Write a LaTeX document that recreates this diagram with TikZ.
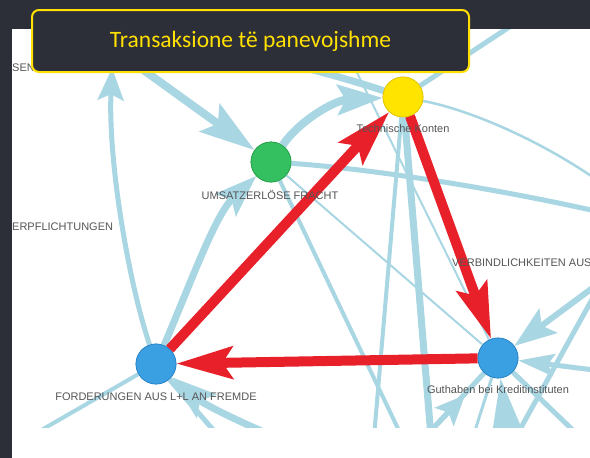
\documentclass[tikz,border=0pt]{standalone}
\usepackage{fontspec}
\newfontfamily\labelfont{Liberation Sans}
\newfontfamily\titlefont{Carlito}
\usetikzlibrary{arrows.meta}
\definecolor{bgdark}{HTML}{2C2E38}
\definecolor{lblue}{HTML}{A9D6E3}
\definecolor{redc}{HTML}{E8202A}
\definecolor{ttlyellow}{HTML}{FFE000}
\definecolor{labgray}{HTML}{555555}
\definecolor{ynode}{HTML}{FFE400}
\definecolor{ynodeb}{HTML}{E2C400}
\definecolor{gnode}{HTML}{34C060}
\definecolor{gnodeb}{HTML}{28A04C}
\definecolor{bnode}{HTML}{3AA0E2}
\definecolor{bnodeb}{HTML}{2A84C4}
\tikzset{
  vertex/.style={circle, minimum size=40pt, inner sep=0pt, line width=0.7pt},
  hidden/.style={circle, minimum size=40pt, inner sep=0pt},
  be/.style={draw=lblue, line width=#1},
  rededge/.style={draw=redc, line width=10pt, -{Stealth[length=56pt,width=32pt,inset=10pt]}},
  lbl/.style={font=\labelfont\fontsize{11}{13}\selectfont, text=labgray, inner sep=0pt},
  titlebox/.style={draw=ttlyellow, line width=2pt, fill=bgdark, rounded corners=7pt,
    minimum width=437pt, minimum height=62pt, text=ttlyellow,
    font=\titlefont\fontsize{23.5}{28}\selectfont}
}
\begin{document}
\begin{tikzpicture}[x=1pt,y=-1pt]
\useasboundingbox (0,0) rectangle (590,458);
\fill[bgdark] (0,0) rectangle (590,458);
\fill[white] (12,29) rectangle (590,458);

% nodes
\node[vertex, fill=ynode, draw=ynodeb] (Y) at (403,97) {};
\node[vertex, fill=gnode, draw=gnodeb] (G) at (271,162) {};
\node[vertex, fill=bnode, draw=bnodeb] (L) at (156,364) {};
\node[vertex, fill=bnode, draw=bnodeb] (R) at (498,358) {};
\node[hidden] (H) at (113,48) {};

% free ends
\coordinate (T1) at (331,20);
\coordinate (T2) at (520,20);
\coordinate (E1) at (600,212);
\coordinate (E2) at (600,182);
\coordinate (E3) at (610,275);
\coordinate (E4) at (610,372);
\coordinate (E5) at (600,285);
\coordinate (E6) at (513,442);
\coordinate (B1) at (402,437);
\coordinate (B2) at (374,437);
\coordinate (B3) at (431,437);
\coordinate (B4) at (38,432);
\coordinate (B5) at (295,445);
\coordinate (B6) at (580,437);
\coordinate (B7) at (512,470);
\coordinate (B8) at (473,437);
\coordinate (B9) at (425,437);
\coordinate (A9) at (465,395);
\coordinate (B10) at (222,440);

\begin{scope}
\clip (12,29) rectangle (590,427);
\draw[be=5pt, -{Stealth[length=32pt,width=26pt,inset=6pt]}] (L) .. controls (128,280) and (108,160) .. (H);
\draw[be=8pt, -{Stealth[length=55pt,width=34pt,inset=10pt]}] (H) -- (G);
\draw[be=7pt, -{Stealth[length=42pt,width=30pt,inset=8pt]}] (L) .. controls (190,285) and (215,215) .. (G);
\draw[be=8pt, -{Stealth[length=45pt,width=30pt,inset=8pt]}] (G) .. controls (300,120) and (335,100) .. (Y);
\draw[be=7pt] (H) .. controls (230,45) and (320,70) .. (Y);
\draw[be=5pt] (Y) -- (T2);
\draw[be=2pt] (T1) -- (R);
\draw[be=2.5pt] (Y) .. controls (470,110) and (540,140) .. (E2);
\draw[be=5pt] (G) .. controls (360,168) and (480,185) .. (E1);
\draw[be=2pt] (G) -- (R);
\draw[be=4pt] (G) -- (B1);
\draw[be=4pt] (Y) -- (B2);
\draw[be=7pt] (Y) -- (B3);
\draw[be=6pt, -{Stealth[length=42pt,width=30pt,inset=8pt]}] (E3) -- (R);
\draw[be=5pt, -{Stealth[length=36pt,width=22pt,inset=6pt]}] (E4) -- (R);
\draw[be=5pt] (E5) -- (E6);
\draw[be=5pt] (R) -- (B6);
\draw[be=4pt, -{Stealth[length=55pt,width=30pt,inset=0pt]}] (B7) -- (R);
\draw[be=3pt] (R) -- (B8);
\draw[be=5pt] (B9) -- (R);
\draw[be=5pt, -{Stealth[length=30pt,width=26pt,inset=6pt]}] (B9) -- (A9);
\draw[be=4pt] (L) -- (B4);
\draw[be=7pt, -{Stealth[length=45pt,width=30pt,inset=8pt]}] (B5) .. controls (245,425) and (205,405) .. (L);
\draw[be=5pt] (L) -- (B10);
\end{scope}

% red edges
\draw[rededge] (L) -- (Y);
\draw[rededge] (Y) -- (R);
\draw[rededge] (R) -- (L);

% redraw nodes on top
\node[vertex, fill=ynode, draw=ynodeb] at (Y) {};
\node[vertex, fill=gnode, draw=gnodeb] at (G) {};
\node[vertex, fill=bnode, draw=bnodeb] at (L) {};
\node[vertex, fill=bnode, draw=bnodeb] at (R) {};

% labels
\node[lbl] (lY) at (403,129) {Technische Konten};
\node[lbl] (lG) at (270,195) {UMSATZERLÖSE FRACHT};
\node[lbl] (lL) at (156,397) {FORDERUNGEN AUS L+L AN FREMDE};
\node[lbl] (lR) at (498,390) {Guthaben bei Kreditinstituten};
\node[lbl, anchor=west] (lV) at (12,227) {ERPFLICHTUNGEN};
\node[lbl, anchor=west] (lB) at (452,263) {VERBINDLICHKEITEN AUS};
\node[lbl, anchor=west] (lS) at (12,68) {SEN F};

% title
\node[titlebox] (title) at (250.5,41) {Transaksione të panevojshme};
\end{tikzpicture}
\end{document}
